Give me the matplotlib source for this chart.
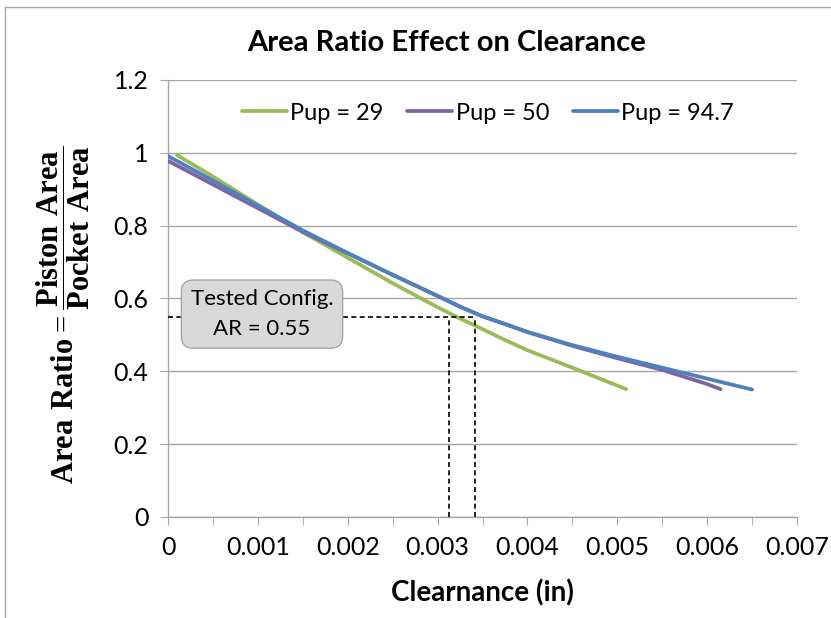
import matplotlib
matplotlib.use("Agg")
import matplotlib.pyplot as plt
from matplotlib.lines import Line2D
from matplotlib.ticker import MultipleLocator, FuncFormatter

plt.rcParams['font.family'] = ['Lato', 'DejaVu Sans']
plt.rcParams['mathtext.fontset'] = 'custom'
plt.rcParams['mathtext.rm'] = 'Liberation Serif'
plt.rcParams['mathtext.bf'] = 'Liberation Serif:bold'

# data
x_29 = [0.0001, 0.0005, 0.001, 0.0015, 0.002, 0.0025, 0.003, 0.00325, 0.0035, 0.00375, 0.004, 0.0045, 0.0051]
y_29 = [0.994, 0.935, 0.858, 0.782, 0.712, 0.642, 0.576, 0.545, 0.516, 0.486, 0.458, 0.41, 0.351]

x_50 = [0.0, 0.0005, 0.001, 0.0015, 0.002, 0.0025, 0.003, 0.00325, 0.0035, 0.00375, 0.004, 0.0045, 0.005, 0.0055, 0.006, 0.00615]
y_50 = [0.978, 0.913, 0.848, 0.783, 0.724, 0.665, 0.607, 0.578, 0.551, 0.53, 0.508, 0.47, 0.436, 0.404, 0.365, 0.351]

x_947 = [0.0, 0.0005, 0.001, 0.0015, 0.002, 0.0025, 0.003, 0.00325, 0.0035, 0.00375, 0.004, 0.0045, 0.005, 0.0055, 0.006, 0.0065]
y_947 = [0.991, 0.924, 0.855, 0.787, 0.725, 0.665, 0.607, 0.577, 0.551, 0.53, 0.508, 0.472, 0.44, 0.41, 0.38, 0.35]

ar_tested = 0.55
clear_tested = [0.00313, 0.00342]

series = [
    (x_29, y_29, "Pup = 29", "#9BBB59"),
    (x_50, y_50, "Pup = 50", "#8064A2"),
    (x_947, y_947, "Pup = 94.7", "#4F81BD"),
]

fig = plt.figure(figsize=(8.31, 6.18), dpi=100)
ax = fig.add_axes([168 / 831, 1 - 517 / 618, (797 - 168) / 831, (517 - 80) / 618])

grey = "#A6A6A6"
for xs, ys, lab, col in series:
    ax.plot(xs, ys, color=col, lw=2.7, label=lab, solid_capstyle="round", solid_joinstyle="round", zorder=3)

# tested config dashed lines
ax.plot([0, max(clear_tested)], [ar_tested, ar_tested], color="black", lw=1.2, ls=(0, (3, 2)), zorder=4)
for c in clear_tested:
    ax.plot([c, c], [0, ar_tested], color="black", lw=1.2, ls=(0, (3, 2)), zorder=4)

ax.text(0.001046, 0.557, "Tested Config.\nAR = 0.55", ha="center", va="center", fontsize=16,
        linespacing=1.6, zorder=5,
        bbox=dict(boxstyle="round,pad=0.42,rounding_size=0.55", fc="#D9D9D9", ec=grey, lw=1))

ax.set_xlim(0, 0.007)
ax.set_ylim(0, 1.2)
ax.xaxis.set_major_locator(MultipleLocator(0.001))
ax.xaxis.set_minor_locator(MultipleLocator(0.0005))
ax.yaxis.set_major_locator(MultipleLocator(0.2))
ax.xaxis.set_major_formatter(FuncFormatter(lambda v, p: "0" if abs(v) < 1e-12 else ("%g" % round(v, 4))))
ax.yaxis.set_major_formatter(FuncFormatter(lambda v, p: "0" if abs(v) < 1e-12 else ("%g" % round(v, 1))))
ax.grid(axis="y", color=grey, lw=1)
ax.set_axisbelow(True)
for s in ["top", "right"]:
    ax.spines[s].set_visible(False)
for s in ["left", "bottom"]:
    ax.spines[s].set_color(grey)
    ax.spines[s].set_linewidth(1)
ax.tick_params(axis="x", which="both", direction="out", length=6, color=grey, labelsize=18, pad=8)
ax.tick_params(axis="y", which="both", direction="out", length=6, color=grey, labelsize=18, pad=8)

fig.text(447 / 831, 1 - 43 / 618, "Area Ratio Effect on Clearance", ha="center", va="center",
         fontsize=21, fontweight="bold")
ax.set_xlabel("Clearnance (in)", fontsize=20, fontweight="bold", labelpad=14)
ax.set_ylabel(r"$\mathbf{Area\ Ratio} = \dfrac{\mathbf{Piston\ Area}}{\mathbf{Pocket\ Area}}$",
              fontsize=22)
ax.yaxis.set_label_coords((92 - 168) / 629, (517 - 315) / 437)

ax.legend(loc="center", bbox_to_anchor=((488 - 168) / 629, (517 - 113) / 437), ncol=3, frameon=False,
          fontsize=17, handlelength=1.9, columnspacing=1.0, handletextpad=0.15)

# chart-area border (left and top)
fig.add_artist(Line2D([5 / 831, 5 / 831], [0, 1 - 7 / 618], color=grey, lw=1))
fig.add_artist(Line2D([5 / 831, 1], [1 - 7 / 618, 1 - 7 / 618], color=grey, lw=1))

fig.savefig("out.png", dpi=100)
